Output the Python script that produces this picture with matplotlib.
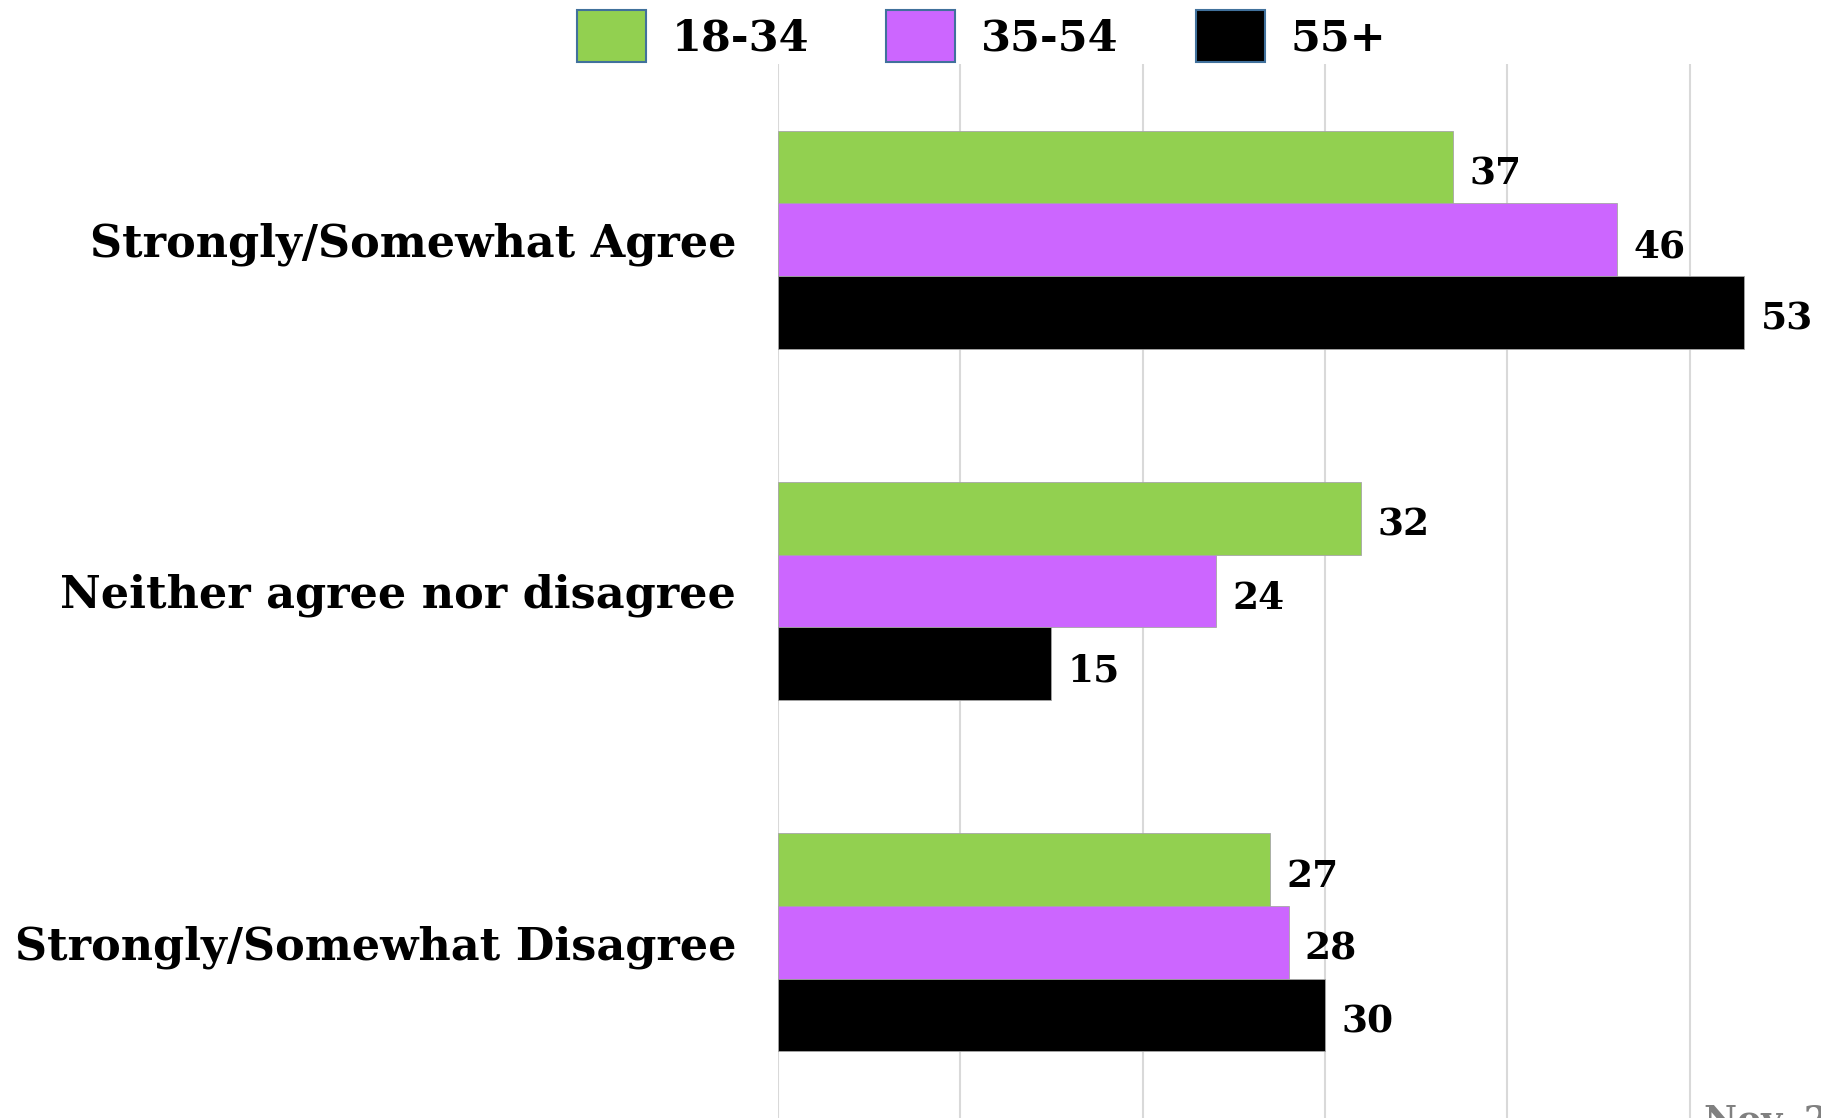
import matplotlib
matplotlib.use('Agg')
import matplotlib.pyplot as plt
import numpy as np

# --- data ---
categories = ['Strongly/Somewhat Agree', 'Neither agree nor disagree', 'Strongly/Somewhat Disagree']
age_groups = ['18-34', '35-54', '55+']
vals_18_34 = [37, 32, 27]
vals_35_54 = [46, 24, 28]
vals_55_plus = [53, 15, 30]
colors = ['#92D050', '#CC66FF', '#000000']
note_text = 'Nov. 2023'

plt.rcParams['font.family'] = ['DejaVu Serif']
plt.rcParams['font.weight'] = 'bold'

fig = plt.figure(figsize=(18.21, 11.18), dpi=100)
ax = fig.add_axes([0.4272, 0.0, 0.5728, 0.9428])

y = np.arange(len(categories))
h = 0.207
series = [vals_18_34, vals_35_54, vals_55_plus]
for i, (vals, col, lab) in enumerate(zip(series, colors, age_groups)):
    pos = y + (i - 1) * h
    ax.barh(pos, vals, height=h, color=col, label=lab, zorder=3,
            edgecolor='#A6A6A6', linewidth=0.6)
    for p, v in zip(pos, vals):
        ax.text(v + 0.9, p + 0.02, str(v), va='center', ha='left',
                fontsize=27, fontweight='bold', color='black')

ax.set_xlim(0, 57.2)
ax.set_ylim(2.5, -0.5)
ax.set_xticks([0, 10, 20, 30, 40, 50])
ax.xaxis.grid(True, color='#D9D9D9', linewidth=1.5, zorder=0)
ax.set_yticks(y)
ax.set_yticklabels(categories, fontsize=32, fontweight='bold')
ax.tick_params(axis='y', length=0, pad=30)
ax.tick_params(axis='x', length=0, labelbottom=False)
for s in ax.spines.values():
    s.set_visible(False)

leg = fig.legend(loc='upper center', bbox_to_anchor=(0.539, 1.026), ncol=3,
                 frameon=False, fontsize=31, handlelength=1.6, handleheight=1.5,
                 columnspacing=1.8, handletextpad=0.6)
for p in leg.get_patches():
    p.set_edgecolor('#41719C')
    p.set_linewidth(1.5)

fig.text(0.9355, 0.0134, note_text, color='#808080', fontsize=26,
         fontweight='bold', ha='left', va='top')

fig.savefig('out.png', dpi=100)
